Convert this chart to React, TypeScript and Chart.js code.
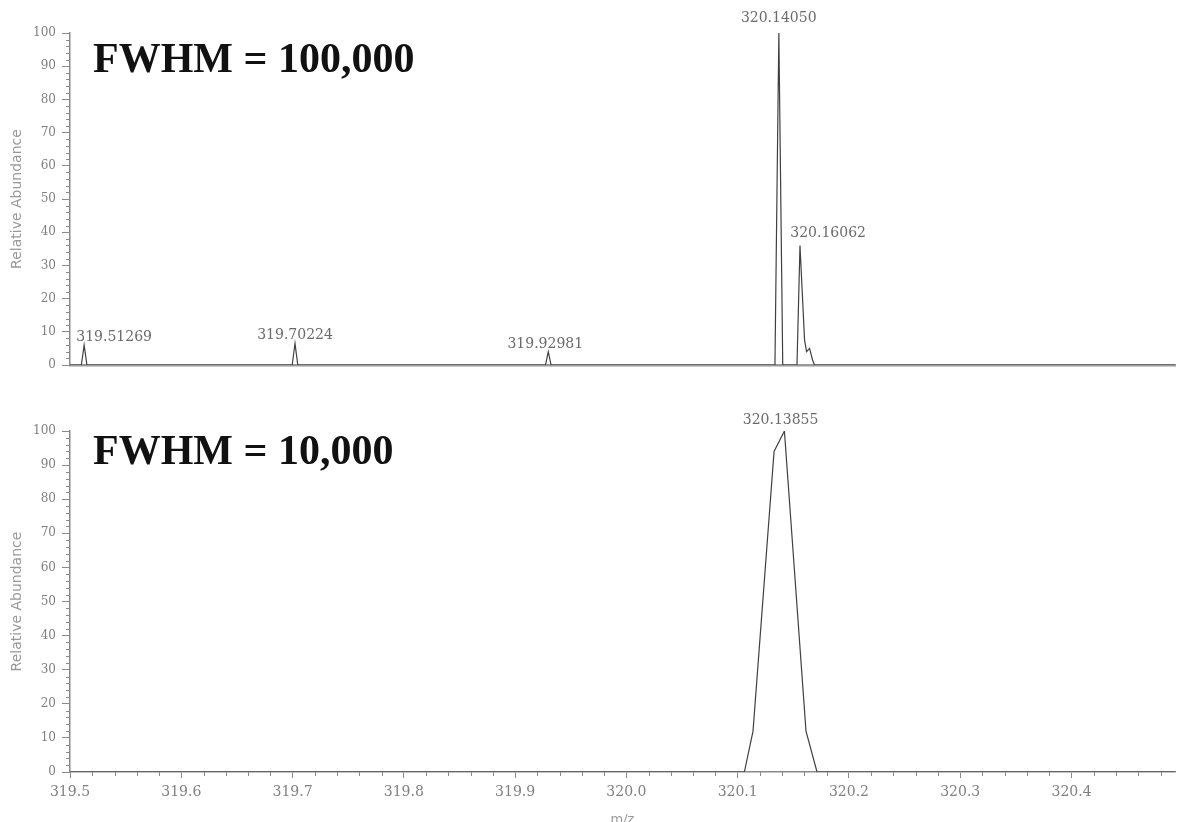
import React, { useEffect, useRef } from "react";
import { Chart, registerables } from "chart.js";

Chart.register(...registerables);

// ---------- data ----------
const hiResMz = [
  319.5, 319.5102, 319.5127, 319.5152,
  319.6997, 319.7022, 319.7047,
  319.9273, 319.9298, 319.9323,
  320.1335, 320.137, 320.1405,
  320.1533, 320.156, 320.1601, 320.1619, 320.1646, 320.1673, 320.169,
  320.493,
];
const hiResAbundance = [
  0, 0, 6, 0,
  0, 6.5, 0,
  0, 4, 0,
  0, 100, 0,
  0, 36, 7.5, 4, 5, 1.5, 0,
  0,
];

const loResMz = [319.5, 320.106, 320.1138, 320.1327, 320.142, 320.1614, 320.1713, 320.493];
const loResAbundance = [0, 0, 12, 94, 100, 12, 0, 0];

const hiResPeakMz = [319.51269, 319.70224, 319.92981, 320.1405, 320.16062];
const hiResPeakAbundance = [6, 6.5, 4, 100, 36];
const hiResPeakLabels = ["319.51269", "319.70224", "319.92981", "320.14050", "320.16062"];

const loResPeakMz = [320.13855];
const loResPeakAbundance = [100];
const loResPeakLabels = ["320.13855"];

const xTickLabels = ["319.5", "319.6", "319.7", "319.8", "319.9", "320.0", "320.1", "320.2", "320.3", "320.4"];
const yTickLabels = ["0", "10", "20", "30", "40", "50", "60", "70", "80", "90", "100"];

const panelTitles = ["FWHM = 100,000", "FWHM = 10,000"];
const yAxisTitle = "Relative Abundance";
const xAxisTitle = "m/z";

const X_MIN = 319.5;
const X_MAX = 320.493;

// ---------- styling ----------
const AXIS_COLOR = "#8a8a8a";
const TEXT_COLOR = "#808080";
const LINE_COLOR = "#404040";
const hiResLabelOffsets = [[30, 8], [0, 8], [-3, 7], [-4, 15], [23, 12]];
const loResLabelOffsets = [[0, 11]];

const toPoints = (xs: number[], ys: number[]) => xs.map((x, i) => ({ x, y: ys[i] }));

const minorTicksPlugin = {
  id: "minorTicks",
  afterDraw(chart: any, _a: any, opts: any) {
    const ctx = chart.ctx;
    ctx.save();
    ctx.strokeStyle = AXIS_COLOR;
    ctx.lineWidth = 1;
    const y = chart.scales.y;
    if (opts.yStep) {
      const n = Math.round((y.max - y.min) / opts.yStep);
      for (let i = 0; i <= n; i++) {
        const v = y.min + i * opts.yStep;
        if (Math.abs(v / 10 - Math.round(v / 10)) < 1e-6) continue;
        const p = Math.round(y.getPixelForValue(v)) + 0.5;
        ctx.beginPath();
        ctx.moveTo(y.right - 4, p);
        ctx.lineTo(y.right, p);
        ctx.stroke();
      }
    }
    const x = chart.scales.x;
    if (opts.xStep) {
      const n = Math.floor((x.max - x.min) / opts.xStep + 1e-6);
      for (let i = 0; i <= n; i++) {
        const v = x.min + i * opts.xStep;
        if (Math.abs(v * 10 - Math.round(v * 10)) < 1e-6) continue;
        const p = Math.round(x.getPixelForValue(v)) + 0.5;
        ctx.beginPath();
        ctx.moveTo(p, x.top);
        ctx.lineTo(p, x.top + 4);
        ctx.stroke();
      }
    }
    ctx.restore();
  },
};

const peakLabelPlugin = {
  id: "peakLabels",
  afterDatasetsDraw(chart: any, _a: any, opts: any) {
    const ctx = chart.ctx;
    const { x, y } = chart.scales;
    ctx.save();
    ctx.font = "14px 'DejaVu Serif'";
    ctx.fillStyle = "#6a6a6a";
    ctx.textAlign = "center";
    ctx.textBaseline = "middle";
    (opts.mz || []).forEach((m: number, i: number) => {
      const [dx, dy] = opts.offsets[i];
      const px = x.getPixelForValue(m) + dx;
      const py = y.getPixelForValue(opts.abundance[i]) - dy;
      ctx.fillText(opts.labels[i], px, py);
    });
    // panel title
    ctx.font = "bold 42px 'Liberation Serif'";
    ctx.fillStyle = "#111";
    ctx.textAlign = "left";
    ctx.textBaseline = "alphabetic";
    ctx.fillText(opts.title, chart.chartArea.left + 23, chart.chartArea.top + opts.titleDy);
    ctx.restore();
  },
};

function makeConfig(panel: "top" | "bottom") {
  const isTop = panel === "top";
  return {
    type: "line" as const,
    data: {
      datasets: [
        {
          data: isTop ? toPoints(hiResMz, hiResAbundance) : toPoints(loResMz, loResAbundance),
          borderColor: LINE_COLOR,
          borderWidth: 1.2,
          pointRadius: 0,
          tension: 0,
          fill: false,
        },
      ],
    },
    options: {
      animation: false,
      responsive: false,
      layout: { padding: { top: isTop ? 33 : 41, right: 3, left: 0, bottom: 0 } },
      plugins: {
        legend: { display: false },
        tooltip: { enabled: false },
        minorTicks: { yStep: 2, xStep: isTop ? 0 : 0.02 },
        peakLabels: {
          mz: isTop ? hiResPeakMz : loResPeakMz,
          abundance: isTop ? hiResPeakAbundance : loResPeakAbundance,
          labels: isTop ? hiResPeakLabels : loResPeakLabels,
          offsets: isTop ? hiResLabelOffsets : loResLabelOffsets,
          title: isTop ? panelTitles[0] : panelTitles[1],
          titleDy: isTop ? 39 : 33,
        },
      },
      scales: {
        x: {
          type: "linear",
          min: X_MIN,
          max: X_MAX,
          afterBuildTicks: (s: any) => {
            s.ticks = xTickLabels.map((t) => ({ value: parseFloat(t) }));
          },
          afterFit: (s: any) => {
            s.height = isTop ? 15 : 68;
          },
          grid: {
            display: !isTop,
            drawOnChartArea: false,
            drawTicks: true,
            tickLength: 6,
            tickColor: AXIS_COLOR,
            tickWidth: 1,
          },
          border: { display: true, color: isTop ? "#9a9a9a" : AXIS_COLOR, width: isTop ? 2.5 : 1.5 },
          ticks: {
            display: !isTop,
            autoSkip: false,
            maxRotation: 0,
            padding: 6,
            color: TEXT_COLOR,
            font: { family: "'DejaVu Serif'", size: 14 },
            callback: (v: any) => Number(v).toFixed(1),
          },
          title: {
            display: !isTop,
            text: xAxisTitle,
            color: "#999",
            font: { family: "'DejaVu Sans'", size: 13 },
            padding: { top: 0, bottom: 13 },
          },
        },
        y: {
          type: "linear",
          min: 0,
          max: 100,
          afterBuildTicks: (s: any) => {
            s.ticks = yTickLabels.map((t) => ({ value: parseFloat(t) }));
          },
          afterFit: (s: any) => {
            s.width = 70;
          },
          grid: {
            display: true,
            drawOnChartArea: false,
            drawTicks: true,
            tickLength: 8,
            tickColor: AXIS_COLOR,
            tickWidth: 1,
          },
          border: { display: true, color: AXIS_COLOR, width: 1.5 },
          ticks: {
            padding: 6,
            color: TEXT_COLOR,
            font: { family: "'DejaVu Serif'", size: 12 },
            callback: (v: any) => String(v),
          },
          title: {
            display: true,
            text: yAxisTitle,
            color: "#999",
            font: { family: "'DejaVu Sans'", size: 14 },
            padding: { top: 9, bottom: 0 },
          },
        },
      },
    },
    plugins: [minorTicksPlugin, peakLabelPlugin],
  };
}

function Panel({ panel, top, height }: { panel: "top" | "bottom"; top: number; height: number }) {
  const ref = useRef<HTMLCanvasElement | null>(null);
  useEffect(() => {
    if (!ref.current) return;
    const chart = new Chart(ref.current, makeConfig(panel) as any);
    return () => chart.destroy();
  }, [panel]);
  return (
    <canvas
      ref={ref}
      width={1178}
      height={height}
      style={{ position: "absolute", left: 0, top, width: 1178, height }}
    />
  );
}

export default function App() {
  return (
    <div
      style={{
        position: "absolute",
        left: 0,
        top: 0,
        width: 1178,
        height: 822,
        overflow: "hidden",
        background: "#fff",
      }}
    >
      <Panel panel="top" top={0} height={380} />
      <Panel panel="bottom" top={390} height={450} />
    </div>
  );
}
